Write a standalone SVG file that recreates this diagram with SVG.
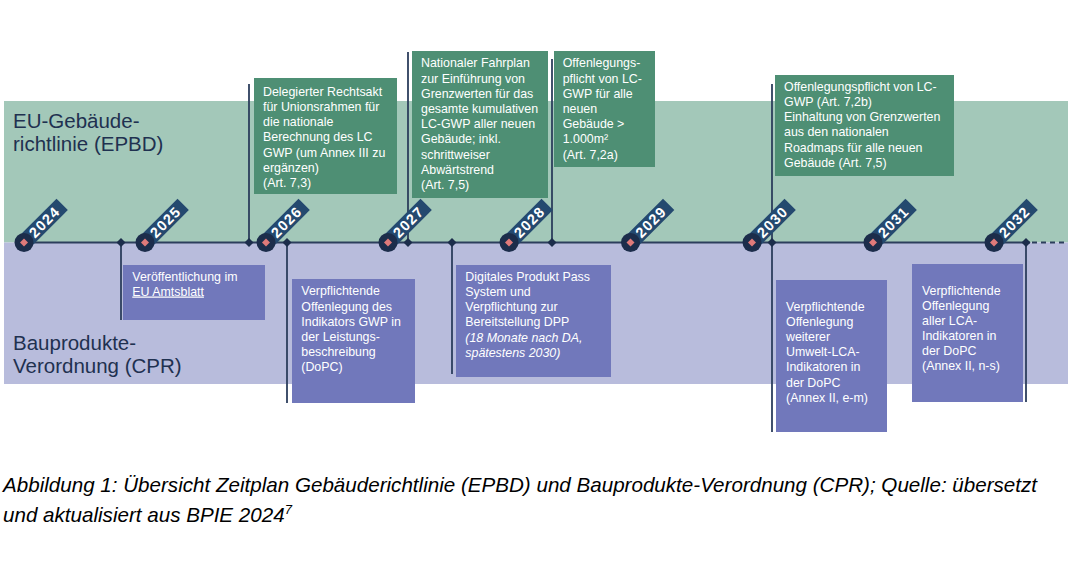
<svg xmlns="http://www.w3.org/2000/svg" xmlns:xlink="http://www.w3.org/1999/xlink" width="1068" height="574" viewBox="0 0 1068 574">
<style>
.band-label{font-family:"Liberation Sans",Arial,sans-serif;font-size:20.5px;fill:#1f3150}
.bt{font-family:"Liberation Sans",Arial,sans-serif;font-size:12.4px;fill:#ffffff}
.it{font-style:italic}
.green{fill:#4e8f74}
.purple{fill:#7178bb}
.conn{stroke:#2c3e5c;stroke-width:1.8;fill:none}
.yr{font-family:"Liberation Sans",Arial,sans-serif;font-size:14.5px;font-weight:bold;fill:#ffffff;letter-spacing:1.2px}
.ms{fill:#1c2d4b}
.cap{font-family:"Liberation Sans",Arial,sans-serif;font-size:20.6px;font-style:italic;fill:#000000}
</style>
<defs>
<g id="yearMarker">
<rect x="0" y="-8" width="54" height="16" fill="#24496f" transform="rotate(-45)"/>
<circle cx="0" cy="0" r="9.5" fill="#1c2d4b"/>
<polygon points="0,-4 4,0 0,4 -4,0" fill="#e07a7a"/>
</g>
<polygon id="milestone" points="0,-4.5 4.5,0 0,4.5 -4.5,0" class="ms"/>
</defs>
<rect width="1068" height="574" fill="#ffffff"/>
<g id="bands">
<rect x="4" y="101" width="1064" height="141.5" fill="#a3c8b9"/>
<rect x="4" y="242.5" width="1064" height="141.5" fill="#b8bcdc"/>
<text class="band-label" x="13" y="128">EU-Gebäude-</text>
<text class="band-label" x="13" y="150.5">richtlinie (EPBD)</text>
<text class="band-label" x="13" y="350">Bauprodukte-</text>
<text class="band-label" x="13" y="373">Verordnung (CPR)</text>
</g>
<g id="connectors">
<line class="conn" x1="121" y1="242.5" x2="121" y2="320"/>
<line class="conn" x1="249" y1="84" x2="249" y2="242.5"/>
<line class="conn" x1="287" y1="242.5" x2="287" y2="403"/>
<line class="conn" x1="408" y1="52" x2="408" y2="242.5"/>
<line class="conn" x1="452" y1="242.5" x2="452" y2="374"/>
<line class="conn" x1="552" y1="59" x2="552" y2="242.5"/>
<line class="conn" x1="772" y1="84" x2="772" y2="432"/>
<line class="conn" x1="1026" y1="242.5" x2="1026" y2="402"/>
<line class="conn" x1="24" y1="242.5" x2="1030" y2="242.5" stroke-width="2"/>
<line class="conn" x1="1032" y1="242.5" x2="1068" y2="242.5" stroke-width="2" stroke-dasharray="5 4"/>
</g>
<g id="box-delegierter">
<rect class="green" x="254" y="78" width="143" height="116"/>
<text class="bt" x="263" y="95.7">Delegierter Rechtsakt</text>
<text class="bt" x="263" y="110.9">für Unionsrahmen für</text>
<text class="bt" x="263" y="126.1">die nationale</text>
<text class="bt" x="263" y="141.3">Berechnung des LC</text>
<text class="bt" x="263" y="156.5">GWP (um Annex III zu</text>
<text class="bt" x="263" y="171.7">ergänzen)</text>
<text class="bt" x="263" y="186.9">(Art. 7,3)</text>
</g>
<g id="box-fahrplan">
<rect class="green" x="412" y="51" width="136" height="147"/>
<text class="bt" x="421" y="67.3">Nationaler Fahrplan</text>
<text class="bt" x="421" y="82.5">zur Einführung von</text>
<text class="bt" x="421" y="97.7">Grenzwerten für das</text>
<text class="bt" x="421" y="112.9">gesamte kumulativen</text>
<text class="bt" x="421" y="128.1">LC-GWP aller neuen</text>
<text class="bt" x="421" y="143.3">Gebäude; inkl.</text>
<text class="bt" x="421" y="158.5">schrittweiser</text>
<text class="bt" x="421" y="173.7">Abwärtstrend</text>
<text class="bt" x="421" y="188.9">(Art. 7,5)</text>
</g>
<g id="box-offenlegung-2a">
<rect class="green" x="554" y="51" width="101" height="116"/>
<text class="bt" x="562.7" y="67.3">Offenlegungs-</text>
<text class="bt" x="562.7" y="82.5">pflicht von LC-</text>
<text class="bt" x="562.7" y="97.7">GWP für alle</text>
<text class="bt" x="562.7" y="112.9">neuen</text>
<text class="bt" x="562.7" y="128.1">Gebäude &gt;</text>
<text class="bt" x="562.7" y="143.3">1.000m²</text>
<text class="bt" x="562.7" y="158.5">(Art. 7,2a)</text>
</g>
<g id="box-offenlegung-2b">
<rect class="green" x="775" y="75" width="179" height="101"/>
<text class="bt" x="784" y="90.7">Offenlegungspflicht von LC-</text>
<text class="bt" x="784" y="105.9">GWP (Art. 7,2b)</text>
<text class="bt" x="784" y="121.1">Einhaltung von Grenzwerten</text>
<text class="bt" x="784" y="136.3">aus den nationalen</text>
<text class="bt" x="784" y="151.5">Roadmaps für alle neuen</text>
<text class="bt" x="784" y="166.7">Gebäude (Art. 7,5)</text>
</g>
<g id="box-amtsblatt">
<rect class="purple" x="123" y="265" width="142" height="55"/>
<text class="bt" x="132.3" y="280.7">Veröffentlichung im</text>
<text class="bt" x="132.3" y="295.5" text-decoration="underline">EU Amtsblatt</text>
</g>
<g id="box-gwp-dopc">
<rect class="purple" x="292" y="279" width="123" height="124"/>
<text class="bt" x="301.3" y="295.3">Verpflichtende</text>
<text class="bt" x="301.3" y="310.5">Offenlegung des</text>
<text class="bt" x="301.3" y="325.7">Indikators GWP in</text>
<text class="bt" x="301.3" y="340.9">der Leistungs-</text>
<text class="bt" x="301.3" y="356.1">beschreibung</text>
<text class="bt" x="301.3" y="371.3">(DoPC)</text>
</g>
<g id="box-dpp">
<rect class="purple" x="456" y="265" width="155" height="112"/>
<text class="bt" x="465.3" y="280.7">Digitales Produkt Pass</text>
<text class="bt" x="465.3" y="295.9">System und</text>
<text class="bt" x="465.3" y="311.1">Verpflichtung zur</text>
<text class="bt" x="465.3" y="326.3">Bereitstellung DPP</text>
<text class="bt it" x="465.3" y="341.5">(18 Monate nach DA,</text>
<text class="bt it" x="465.3" y="356.7">spätestens 2030)</text>
</g>
<g id="box-weitere-lca">
<rect class="purple" x="776" y="280" width="111" height="152"/>
<text class="bt" x="786" y="311">Verpflichtende</text>
<text class="bt" x="786" y="326.1">Offenlegung</text>
<text class="bt" x="786" y="341.2">weiterer</text>
<text class="bt" x="786" y="356.3">Umwelt-LCA-</text>
<text class="bt" x="786" y="371.4">Indikatoren in</text>
<text class="bt" x="786" y="386.5">der DoPC</text>
<text class="bt" x="786" y="401.6">(Annex II, e-m)</text>
</g>
<g id="box-alle-lca">
<rect class="purple" x="912" y="264" width="111" height="138"/>
<text class="bt" x="922" y="295.3">Verpflichtende</text>
<text class="bt" x="922" y="310.3">Offenlegung</text>
<text class="bt" x="922" y="325.3">aller LCA-</text>
<text class="bt" x="922" y="340.3">Indikatoren in</text>
<text class="bt" x="922" y="355.3">der DoPC</text>
<text class="bt" x="922" y="370.3">(Annex II, n-s)</text>
</g>
<g id="milestones">
<use xlink:href="#milestone" x="121" y="242.5"/>
<use xlink:href="#milestone" x="249" y="242.5"/>
<use xlink:href="#milestone" x="287" y="242.5"/>
<use xlink:href="#milestone" x="408" y="242.5"/>
<use xlink:href="#milestone" x="452" y="242.5"/>
<use xlink:href="#milestone" x="552" y="242.5"/>
<use xlink:href="#milestone" x="772" y="242.5"/>
<use xlink:href="#milestone" x="1026" y="242.5"/>
</g>
<g id="year-2024" transform="translate(24,242.5)"><use xlink:href="#yearMarker"/><text class="yr" transform="rotate(-45)" x="29" y="5" text-anchor="middle">2024</text></g>
<g id="year-2025" transform="translate(145,242.5)"><use xlink:href="#yearMarker"/><text class="yr" transform="rotate(-45)" x="29" y="5" text-anchor="middle">2025</text></g>
<g id="year-2026" transform="translate(266,242.5)"><use xlink:href="#yearMarker"/><text class="yr" transform="rotate(-45)" x="29" y="5" text-anchor="middle">2026</text></g>
<g id="year-2027" transform="translate(388,242.5)"><use xlink:href="#yearMarker"/><text class="yr" transform="rotate(-45)" x="29" y="5" text-anchor="middle">2027</text></g>
<g id="year-2028" transform="translate(509,242.5)"><use xlink:href="#yearMarker"/><text class="yr" transform="rotate(-45)" x="29" y="5" text-anchor="middle">2028</text></g>
<g id="year-2029" transform="translate(630.5,242.5)"><use xlink:href="#yearMarker"/><text class="yr" transform="rotate(-45)" x="29" y="5" text-anchor="middle">2029</text></g>
<g id="year-2030" transform="translate(752,242.5)"><use xlink:href="#yearMarker"/><text class="yr" transform="rotate(-45)" x="29" y="5" text-anchor="middle">2030</text></g>
<g id="year-2031" transform="translate(873,242.5)"><use xlink:href="#yearMarker"/><text class="yr" transform="rotate(-45)" x="29" y="5" text-anchor="middle">2031</text></g>
<g id="year-2032" transform="translate(994,242.5)"><use xlink:href="#yearMarker"/><text class="yr" transform="rotate(-45)" x="29" y="5" text-anchor="middle">2032</text></g>
<g id="caption">
<text class="cap" x="3" y="492">Abbildung 1: Übersicht Zeitplan Gebäuderichtlinie (EPBD) und Bauprodukte-Verordnung (CPR); Quelle: übersetzt</text>
<text class="cap" x="3" y="522">und aktualisiert aus BPIE 2024<tspan font-size="13" dy="-8">7</tspan></text>
</g>
</svg>
